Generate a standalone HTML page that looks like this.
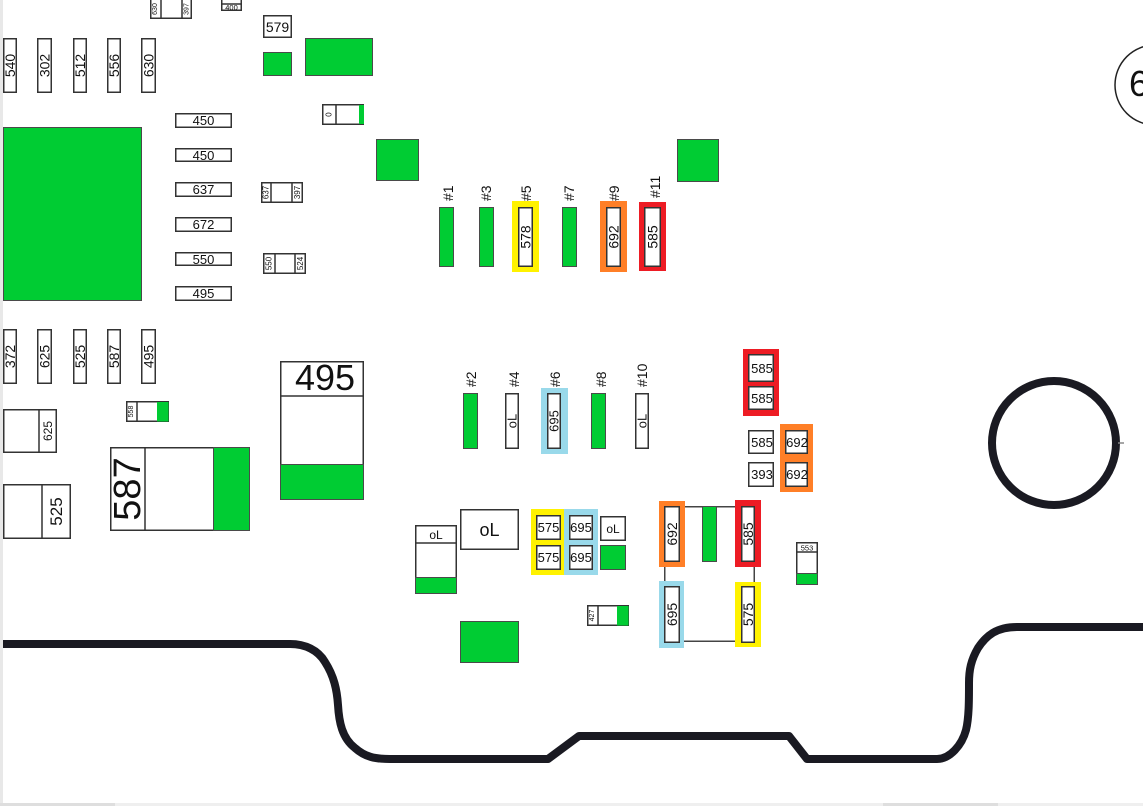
<!DOCTYPE html>
<html><head><meta charset="utf-8"><style>
html,body{margin:0;padding:0;background:#fff;}
svg{display:block;}
text{font-family:"Liberation Sans",sans-serif;fill:#111;}
.b{fill:#fff;stroke:#333;stroke-width:1.5;}
.g{fill:#00cc33;stroke:#4a4a4a;stroke-width:1;}
.l{stroke:#333;stroke-width:1.5;}
</style></head><body>
<svg width="1143" height="806" viewBox="0 0 1143 806" xmlns="http://www.w3.org/2000/svg">
<rect x="0" y="0" width="1143" height="806" fill="#fff"/>
<rect x="0" y="0" width="3" height="806" fill="#e8e8e8"/>
<rect x="0" y="803" width="1143" height="3" fill="#efefef"/>
<rect x="0" y="803" width="115" height="3" fill="#dedede"/>
<rect x="883" y="803" width="115" height="3" fill="#dedede"/>

<!-- top small components -->
<rect class="b" x="150.75" y="-2" width="40.5" height="20.25"/>
<line class="l" x1="161" y1="0" x2="161" y2="19"/>
<line class="l" x1="182" y1="0" x2="182" y2="19"/>
<text transform="translate(155.5,9) rotate(-90)" font-size="7" text-anchor="middle" dominant-baseline="central">630</text>
<text transform="translate(187,9) rotate(-90)" font-size="7" text-anchor="middle" dominant-baseline="central">397</text>

<rect class="b" x="221.75" y="-2" width="19.5" height="12.25"/>
<line class="l" x1="221" y1="4" x2="242" y2="4"/>
<text x="231.5" y="10" font-size="7.5" text-anchor="middle">400</text>

<rect class="b" x="263.75" y="15.75" width="27.5" height="21.5"/>
<text x="277.5" y="32" font-size="14" text-anchor="middle">579</text>
<rect class="g" x="263.5" y="52.5" width="28" height="23"/>
<rect class="g" x="305.5" y="38.5" width="67" height="37"/>

<rect class="b" x="322.75" y="104.75" width="40.5" height="19.5"/>
<line class="l" x1="336" y1="104" x2="336" y2="125"/>
<rect x="359" y="105" width="5" height="19" fill="#00cc33"/>
<text transform="translate(329,114.5) rotate(-90)" font-size="8" text-anchor="middle" dominant-baseline="central">0</text>

<!-- top vertical row -->
<g font-size="14" text-anchor="middle">
<rect class="b" x="3.75" y="38.75" width="12.5" height="53.5"/>
<text transform="translate(10,65.5) rotate(-90)" dominant-baseline="central">540</text>
<rect class="b" x="37.75" y="38.75" width="13.5" height="53.5"/>
<text transform="translate(44.5,65.5) rotate(-90)" dominant-baseline="central">302</text>
<rect class="b" x="73.75" y="38.75" width="12.5" height="53.5"/>
<text transform="translate(80,65.5) rotate(-90)" dominant-baseline="central">512</text>
<rect class="b" x="107.75" y="38.75" width="12.5" height="53.5"/>
<text transform="translate(114,65.5) rotate(-90)" dominant-baseline="central">556</text>
<rect class="b" x="141.75" y="38.75" width="13.5" height="53.5"/>
<text transform="translate(148.5,65.5) rotate(-90)" dominant-baseline="central">630</text>

<rect class="b" x="3.75" y="329.75" width="12.5" height="53.5"/>
<text transform="translate(10,356.5) rotate(-90)" dominant-baseline="central">372</text>
<rect class="b" x="37.75" y="329.75" width="13.5" height="53.5"/>
<text transform="translate(44.5,356.5) rotate(-90)" dominant-baseline="central">625</text>
<rect class="b" x="73.75" y="329.75" width="12.5" height="53.5"/>
<text transform="translate(80,356.5) rotate(-90)" dominant-baseline="central">525</text>
<rect class="b" x="107.75" y="329.75" width="12.5" height="53.5"/>
<text transform="translate(114,356.5) rotate(-90)" dominant-baseline="central">587</text>
<rect class="b" x="141.75" y="329.75" width="13.5" height="53.5"/>
<text transform="translate(148.5,356.5) rotate(-90)" dominant-baseline="central">495</text>
</g>

<!-- big green left -->
<rect class="g" x="3.5" y="127.5" width="138" height="173"/>

<!-- horizontal boxes -->
<g font-size="13" text-anchor="middle">
<rect class="b" x="175.75" y="113.75" width="55.5" height="13.5"/><text x="203.5" y="125">450</text>
<rect class="b" x="175.75" y="148.75" width="55.5" height="12.5"/><text x="203.5" y="160">450</text>
<rect class="b" x="175.75" y="182.75" width="55.5" height="13.5"/><text x="203.5" y="194">637</text>
<rect class="b" x="175.75" y="217.75" width="55.5" height="13.5"/><text x="203.5" y="229">672</text>
<rect class="b" x="175.75" y="252.75" width="55.5" height="12.5"/><text x="203.5" y="264">550</text>
<rect class="b" x="175.75" y="286.75" width="55.5" height="13.5"/><text x="203.5" y="298">495</text>
</g>

<rect class="b" x="261.75" y="182.75" width="40.5" height="19.5"/>
<line class="l" x1="271" y1="182" x2="271" y2="203"/>
<line class="l" x1="292" y1="182" x2="292" y2="203"/>
<text transform="translate(266,192.5) rotate(-90)" font-size="8" text-anchor="middle" dominant-baseline="central">637</text>
<text transform="translate(297.5,192.5) rotate(-90)" font-size="8" text-anchor="middle" dominant-baseline="central">397</text>

<rect class="b" x="263.75" y="253.75" width="41.5" height="19.5"/>
<line class="l" x1="275" y1="253" x2="275" y2="274"/>
<line class="l" x1="295" y1="253" x2="295" y2="274"/>
<text transform="translate(269,263.5) rotate(-90)" font-size="8" text-anchor="middle" dominant-baseline="central">550</text>
<text transform="translate(300.5,263.5) rotate(-90)" font-size="8" text-anchor="middle" dominant-baseline="central">524</text>

<rect class="g" x="376.5" y="139.5" width="42" height="41"/>
<rect class="g" x="677.5" y="139.5" width="41" height="42"/>

<!-- #1..#11 -->
<g font-size="14">
<text transform="translate(448,201) rotate(-90)" dominant-baseline="central">#1</text>
<text transform="translate(486,201) rotate(-90)" dominant-baseline="central">#3</text>
<text transform="translate(526,201) rotate(-90)" dominant-baseline="central">#5</text>
<text transform="translate(569,201) rotate(-90)" dominant-baseline="central">#7</text>
<text transform="translate(614,201) rotate(-90)" dominant-baseline="central">#9</text>
<text transform="translate(655,198) rotate(-90)" dominant-baseline="central">#11</text>
</g>
<rect class="g" x="439.5" y="207.5" width="14" height="59"/>
<rect class="g" x="479.5" y="207.5" width="14" height="59"/>
<rect class="g" x="562.5" y="207.5" width="14" height="59"/>
<rect x="512" y="201" width="27" height="71" fill="#fff200"/>
<rect class="b" x="518.75" y="207.75" width="13.5" height="58.5"/>
<rect x="600" y="201" width="27" height="71" fill="#ff7f27"/>
<rect class="b" x="606.75" y="207.75" width="13.5" height="58.5"/>
<rect x="639" y="202" width="27" height="69" fill="#ed1c24"/>
<rect class="b" x="644.75" y="207.75" width="15.5" height="58.5"/>
<g font-size="14" text-anchor="middle">
<text transform="translate(525.5,237) rotate(-90)" dominant-baseline="central">578</text>
<text transform="translate(613.5,237) rotate(-90)" dominant-baseline="central">692</text>
<text transform="translate(652.5,237) rotate(-90)" dominant-baseline="central">585</text>
</g>

<!-- #2..#10 -->
<g font-size="14">
<text transform="translate(471,387) rotate(-90)" dominant-baseline="central">#2</text>
<text transform="translate(514,387) rotate(-90)" dominant-baseline="central">#4</text>
<text transform="translate(555,387) rotate(-90)" dominant-baseline="central">#6</text>
<text transform="translate(601,387) rotate(-90)" dominant-baseline="central">#8</text>
<text transform="translate(642,387) rotate(-90)" dominant-baseline="central">#10</text>
</g>
<rect class="g" x="463.5" y="393.5" width="14" height="55"/>
<rect class="g" x="591.5" y="393.5" width="14" height="55"/>
<rect class="b" x="505.75" y="393.75" width="12.5" height="54.5"/>
<rect class="b" x="635.75" y="393.75" width="12.5" height="54.5"/>
<rect x="541" y="388" width="27" height="66" fill="#99d9ea"/>
<rect class="b" x="547.75" y="393.75" width="12.5" height="54.5"/>
<g font-size="13" text-anchor="middle">
<text transform="translate(512,421) rotate(-90)" dominant-baseline="central">oL</text>
<text transform="translate(642,421) rotate(-90)" dominant-baseline="central">oL</text>
<text transform="translate(554,421) rotate(-90)" dominant-baseline="central">695</text>
</g>

<!-- left middle components -->
<rect class="b" x="126.75" y="401.75" width="41.5" height="19.5"/>
<line class="l" x1="137" y1="401" x2="137" y2="422"/>
<rect x="157" y="402" width="11.5" height="19.5" fill="#00cc33"/>
<text transform="translate(131.5,411.5) rotate(-90)" font-size="7" text-anchor="middle" dominant-baseline="central">558</text>

<rect class="b" x="3.75" y="409.75" width="52.5" height="42.5"/>
<line class="l" x1="39" y1="409" x2="39" y2="453"/>
<text transform="translate(48,431) rotate(-90)" font-size="12" text-anchor="middle" dominant-baseline="central">625</text>

<rect class="b" x="3.75" y="484.75" width="66.5" height="53.5"/>
<line class="l" x1="42" y1="484" x2="42" y2="539"/>
<text transform="translate(56.5,511.5) rotate(-90)" font-size="17" text-anchor="middle" dominant-baseline="central">525</text>

<rect class="b" x="110.75" y="447.75" width="138.5" height="82.5"/>
<line class="l" x1="145" y1="447" x2="145" y2="531"/>
<rect class="g" x="213.5" y="447.5" width="36" height="83"/>
<text transform="translate(128,489) rotate(-90)" font-size="38" text-anchor="middle" dominant-baseline="central">587</text>

<rect class="b" x="280.75" y="361.75" width="82.5" height="137.5"/>
<line class="l" x1="280" y1="396" x2="364" y2="396"/>
<rect class="g" x="280.5" y="464.5" width="83" height="35"/>
<text x="325" y="390" font-size="36" text-anchor="middle">495</text>

<!-- bottom middle -->
<rect class="b" x="415.75" y="525.75" width="40.5" height="67.5"/>
<line class="l" x1="415" y1="543" x2="457" y2="543"/>
<rect class="g" x="415.5" y="577.5" width="41" height="16"/>
<text x="436" y="539" font-size="12" text-anchor="middle">oL</text>

<rect class="b" x="460.75" y="509.75" width="57.5" height="39.5"/>
<text x="489.5" y="536" font-size="18" text-anchor="middle">oL</text>

<rect x="531" y="509" width="33" height="66" fill="#fff200"/>
<rect x="564" y="509" width="34" height="66" fill="#99d9ea"/>
<rect class="b" x="536.75" y="515.75" width="23.5" height="23.5"/>
<rect class="b" x="536.75" y="545.75" width="23.5" height="23.5"/>
<rect class="b" x="569.75" y="515.75" width="22.5" height="23.5"/>
<rect class="b" x="569.75" y="545.75" width="22.5" height="23.5"/>
<g font-size="13" text-anchor="middle">
<text x="548.5" y="532">575</text>
<text x="548.5" y="562">575</text>
<text x="581" y="532">695</text>
<text x="581" y="562">695</text>
</g>
<rect class="b" x="600.75" y="516.75" width="24.5" height="23.5"/>
<text x="613" y="533" font-size="12" text-anchor="middle">oL</text>
<rect class="g" x="600.5" y="545.5" width="25" height="24"/>

<rect class="b" x="587.75" y="605.75" width="40.5" height="19.5"/>
<line class="l" x1="598" y1="605" x2="598" y2="626"/>
<rect x="617" y="606" width="11.5" height="19.5" fill="#00cc33"/>
<text transform="translate(592.5,615.5) rotate(-90)" font-size="7" text-anchor="middle" dominant-baseline="central">427</text>

<rect class="g" x="460.5" y="621.5" width="58" height="41"/>

<!-- right components -->
<rect x="743" y="349" width="36" height="67" fill="#ed1c24"/>
<rect class="b" x="748.75" y="354.75" width="24.5" height="26.5"/>
<rect class="b" x="748.75" y="386.75" width="24.5" height="22.5"/>
<rect class="b" x="748.75" y="430.75" width="24.5" height="22.5"/>
<rect class="b" x="748.75" y="462.75" width="24.5" height="23.5"/>
<rect x="780" y="424" width="33" height="68" fill="#ff7f27"/>
<rect class="b" x="785.75" y="430.75" width="21.5" height="22.5"/>
<rect class="b" x="785.75" y="462.75" width="21.5" height="23.5"/>
<g font-size="13" text-anchor="middle">
<text x="762" y="373">585</text>
<text x="762" y="403">585</text>
<text x="762" y="447">585</text>
<text x="762" y="479">393</text>
<text x="797" y="447">692</text>
<text x="797" y="479">692</text>
</g>

<rect x="664.75" y="506.75" width="89.5" height="134.5" fill="none" stroke="#444" stroke-width="1.5"/>
<rect x="659" y="501" width="26" height="66" fill="#ff7f27"/>
<rect class="b" x="664.75" y="506.75" width="14.5" height="54.5"/>
<rect class="g" x="702.5" y="506.5" width="14" height="55"/>
<rect x="735" y="500" width="26" height="67" fill="#ed1c24"/>
<rect class="b" x="741.75" y="506.75" width="12.5" height="54.5"/>
<rect x="659" y="581" width="25" height="67" fill="#99d9ea"/>
<rect class="b" x="664.75" y="586.75" width="14.5" height="55.5"/>
<rect x="735" y="582" width="26" height="65" fill="#fff200"/>
<rect class="b" x="741.75" y="586.75" width="12.5" height="55.5"/>
<g font-size="14" text-anchor="middle">
<text transform="translate(672,534) rotate(-90)" dominant-baseline="central">692</text>
<text transform="translate(748,534) rotate(-90)" dominant-baseline="central">585</text>
<text transform="translate(672,614.5) rotate(-90)" dominant-baseline="central">695</text>
<text transform="translate(748,614.5) rotate(-90)" dominant-baseline="central">575</text>
</g>

<rect class="b" x="796.75" y="542.75" width="20.5" height="41.5"/>
<line class="l" x1="796" y1="552" x2="818" y2="552"/>
<rect class="g" x="796.5" y="573.5" width="21" height="11"/>
<text x="807" y="550.5" font-size="7.5" text-anchor="middle">553</text>

<!-- circle 6 -->
<circle cx="1155" cy="85" r="40" fill="none" stroke="#222" stroke-width="1.5"/>
<text x="1129" y="96" font-size="36">6</text>

<!-- big ring -->
<circle cx="1054" cy="443" r="62" fill="none" stroke="#1a1a22" stroke-width="8"/>
<line x1="1118" y1="443" x2="1124" y2="443" stroke="#888" stroke-width="1.5"/>

<!-- board outline -->
<path d="M 3 644 L 290 644 C 305 644, 318 650, 325 662 C 334 676, 337 690, 338 705 C 339 722, 342 738, 355 748 C 365 757, 375 759, 390 759 L 548 759 L 579 736 L 789 736 L 807 759 L 937 759 C 950 759, 962 745, 966 730 C 969 718, 969 700, 969 683 C 969 670, 971 660, 978 648 C 986 636, 996 627, 1017 627 L 1143 627" fill="none" stroke="#1a1a22" stroke-width="8" stroke-linejoin="round"/>
</svg>
</body></html>
